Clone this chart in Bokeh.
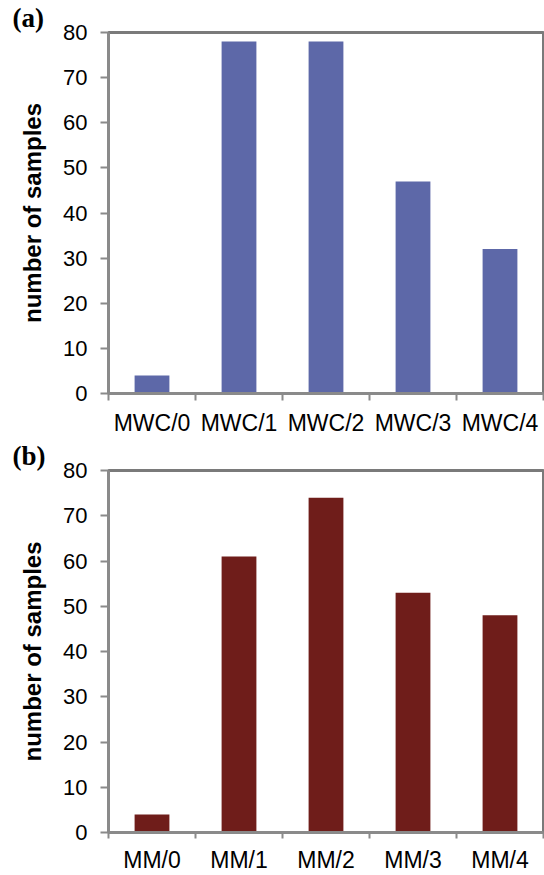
from bokeh.plotting import figure
from bokeh.layouts import column
from bokeh.models import FixedTicker, Range1d
from bokeh.embed import file_html
from bokeh.resources import INLINE

cats_a = ["MWC/0", "MWC/1", "MWC/2", "MWC/3", "MWC/4"]
vals_a = [4, 78, 78, 47, 32]
cats_b = ["MM/0", "MM/1", "MM/2", "MM/3", "MM/4"]
vals_b = [4, 61, 74, 53, 48]
y_ticks = [0, 10, 20, 30, 40, 50, 60, 70, 80]

FONT = "Liberation Sans"
AXIS_GRAY = "#8a8a8a"


def make_panel(cats, vals, color, tag, height, top, bottom, standoff, tick_out):
    n = len(cats)
    left = 108
    p = figure(width=544, height=height, output_backend="svg", toolbar_location=None,
               x_range=Range1d(-0.5, n - 0.5), y_range=Range1d(0, 80),
               min_border_left=left, min_border_right=1,
               min_border_top=top, min_border_bottom=bottom)
    xs = list(range(n))
    p.vbar(x=xs, top=vals, width=0.4, fill_color=color, line_color=None)

    p.xgrid.grid_line_color = None
    p.ygrid.grid_line_color = None
    p.background_fill_color = "white"
    p.border_fill_color = "white"
    p.outline_line_color = "#7a7a7a"
    p.outline_line_width = 3

    p.title.text = tag
    p.title.align = "left"
    p.title.offset = 12 - left
    p.title.standoff = 0
    p.title.text_font = "Liberation Serif"
    p.title.text_font_style = "bold"
    p.title.text_font_size = "27px"
    p.title.text_color = "black"

    xa = p.xaxis[0]
    xa.ticker = FixedTicker(ticks=xs, minor_ticks=[i - 0.5 for i in range(n + 1)])
    xa.major_label_overrides = {i: c for i, c in enumerate(cats)}
    xa.major_tick_out = 0
    xa.major_tick_in = 0
    xa.minor_tick_out = tick_out
    xa.minor_tick_in = 0
    xa.minor_tick_line_color = AXIS_GRAY
    xa.minor_tick_line_width = 2
    xa.axis_line_color = AXIS_GRAY
    xa.axis_line_width = 3
    xa.major_label_standoff = standoff
    xa.major_label_text_font = FONT
    xa.major_label_text_font_size = "23px"
    xa.major_label_text_color = "black"

    ya = p.yaxis[0]
    ya.ticker = FixedTicker(ticks=y_ticks)
    ya.minor_tick_line_color = None
    ya.major_tick_out = 8
    ya.major_tick_in = 0
    ya.major_tick_line_color = AXIS_GRAY
    ya.major_tick_line_width = 2
    ya.axis_line_color = AXIS_GRAY
    ya.axis_line_width = 3
    ya.major_label_standoff = 13
    ya.major_label_text_font = FONT
    ya.major_label_text_font_size = "22px"
    ya.major_label_text_color = "black"
    ya.axis_label = "number of samples"
    ya.axis_label_text_font = FONT
    ya.axis_label_text_font_style = "bold"
    ya.axis_label_text_font_size = "24px"
    ya.axis_label_text_color = "black"
    ya.axis_label_standoff = 14
    return p


pa = make_panel(cats_a, vals_a, "#5d68a8", "(a)", 438, 30, 43, 9, 7)
pb = make_panel(cats_b, vals_b, "#6f1d1a", "(b)", 437, 30, 41, 8, 6)

layout = column(pa, pb, spacing=0)
open("out.html", "w").write(file_html(layout, INLINE))
